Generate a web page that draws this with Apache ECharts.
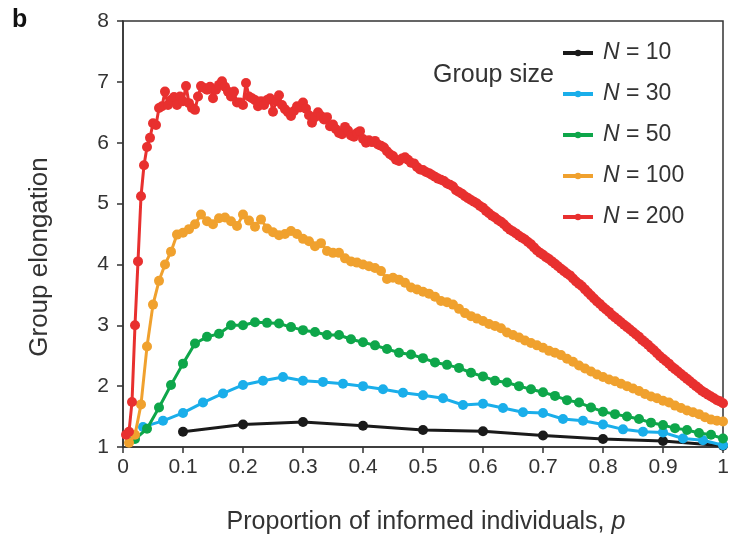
<!DOCTYPE html>
<html>
<head>
<meta charset="utf-8">
<script src="https://cdn.jsdelivr.net/npm/echarts@6.0.0/dist/echarts.min.js"></script>
<style>
  html, body { margin: 0; padding: 0; background: #fff; }
  #chart { width: 734px; height: 536px; }
</style>
</head>
<body>
<div id="chart"></div>
<script>
// Group sizes (legend) and colours
const groupSizes = ['10', '30', '50', '100', '200'];
const colors = ['#1a1a1a', '#1aaeea', '#0ea64a', '#f0a12e', '#e8302f'];

// tick labels
const xTicks = ['0', '0.1', '0.2', '0.3', '0.4', '0.5', '0.6', '0.7', '0.8', '0.9', '1'];
const yTicks = ['1', '2', '3', '4', '5', '6', '7', '8'];

// Group elongation, sampled at p = k/N, k = 1..N
const elong10 = [1.25, 1.37, 1.41, 1.35, 1.28, 1.26, 1.19, 1.13, 1.10, 1.02];

const elong30 = [1.33, 1.43, 1.56, 1.73, 1.88, 2.02, 2.09, 2.15, 2.09, 2.07,
  2.04, 2.00, 1.95, 1.89, 1.85, 1.80, 1.69, 1.71, 1.64, 1.57,
  1.56, 1.46, 1.43, 1.37, 1.29, 1.25, 1.24, 1.14, 1.11, 1.03];

const elong50 = [1.13, 1.30, 1.65, 2.02, 2.37, 2.70, 2.81, 2.86, 3.00, 3.00,
  3.05, 3.04, 3.03, 2.97, 2.92, 2.89, 2.84, 2.84, 2.77, 2.72,
  2.67, 2.61, 2.55, 2.52, 2.46, 2.39, 2.35, 2.30, 2.22, 2.16,
  2.09, 2.06, 2.00, 1.95, 1.90, 1.84, 1.77, 1.73, 1.65, 1.58,
  1.54, 1.50, 1.46, 1.40, 1.36, 1.31, 1.28, 1.23, 1.20, 1.14];

const elong100 = [1.07, 1.20, 1.70, 2.65, 3.34, 3.73, 4.00, 4.21, 4.49, 4.52,
  4.58, 4.66, 4.82, 4.71, 4.66, 4.76, 4.77, 4.71, 4.63, 4.82,
  4.72, 4.62, 4.74, 4.59, 4.53, 4.48, 4.50, 4.55, 4.50, 4.42,
  4.38, 4.30, 4.35, 4.22, 4.19, 4.19, 4.10, 4.05, 4.03, 4.00,
  3.97, 3.94, 3.89, 3.76, 3.78, 3.75, 3.70, 3.62, 3.59, 3.55,
  3.52, 3.47, 3.40, 3.38, 3.34, 3.27, 3.20, 3.15, 3.11, 3.07,
  3.02, 2.99, 2.95, 2.88, 2.84, 2.80, 2.75, 2.71, 2.67, 2.63,
  2.58, 2.55, 2.51, 2.45, 2.40, 2.34, 2.29, 2.24, 2.19, 2.15,
  2.11, 2.08, 2.04, 2.00, 1.96, 1.92, 1.87, 1.83, 1.80, 1.76,
  1.73, 1.68, 1.64, 1.60, 1.57, 1.54, 1.49, 1.45, 1.43, 1.42];

const elong200 = [1.20, 1.25, 1.74, 3.00, 4.05, 5.12, 5.63, 5.93, 6.08, 6.32,
  6.29, 6.57, 6.60, 6.84, 6.62, 6.70, 6.75, 6.62, 6.76, 6.68,
  6.93, 6.65, 6.57, 6.54, 6.76, 6.93, 6.90, 6.87, 6.92, 6.73,
  6.87, 6.95, 7.01, 6.92, 6.84, 6.76, 6.84, 6.66, 6.66, 6.62,
  6.98, 6.76, 6.73, 6.70, 6.60, 6.68, 6.62, 6.70, 6.73, 6.51,
  6.68, 6.78, 6.62, 6.55, 6.50, 6.44, 6.52, 6.60, 6.58, 6.66,
  6.56, 6.45, 6.33, 6.42, 6.50, 6.44, 6.38, 6.42, 6.27, 6.30,
  6.22, 6.16, 6.14, 6.26, 6.20, 6.12, 6.10, 6.16, 6.19, 6.06,
  6.00, 6.04, 6.01, 6.03, 5.97, 5.95, 5.92, 5.86, 5.81, 5.78,
  5.72, 5.70, 5.74, 5.76, 5.72, 5.67, 5.66, 5.60, 5.56, 5.55,
  5.52, 5.50, 5.47, 5.44, 5.41, 5.39, 5.37, 5.33, 5.31, 5.28,
  5.22, 5.19, 5.16, 5.12, 5.09, 5.06, 5.03, 5.00, 4.96, 4.93,
  4.88, 4.84, 4.80, 4.77, 4.73, 4.70, 4.66, 4.61, 4.57, 4.54,
  4.51, 4.47, 4.44, 4.41, 4.37, 4.33, 4.28, 4.23, 4.19, 4.16,
  4.12, 4.09, 4.05, 4.01, 3.97, 3.93, 3.89, 3.85, 3.82, 3.77,
  3.72, 3.68, 3.64, 3.59, 3.54, 3.49, 3.44, 3.39, 3.35, 3.30,
  3.26, 3.22, 3.17, 3.13, 3.09, 3.05, 3.01, 2.97, 2.93, 2.89,
  2.85, 2.81, 2.76, 2.72, 2.68, 2.63, 2.59, 2.54, 2.49, 2.45,
  2.41, 2.37, 2.32, 2.28, 2.24, 2.20, 2.16, 2.12, 2.08, 2.04,
  2.00, 1.96, 1.92, 1.89, 1.86, 1.83, 1.80, 1.77, 1.75, 1.72];

const seriesValues = [elong10, elong30, elong50, elong100, elong200];

const FONT = 'Liberation Sans, Arial, Helvetica, sans-serif';
const TXT = '#333333';

function toPairs(values, n) {
  return values.map((v, i) => [(i + 1) / n, v]);
}

const chart = echarts.init(document.getElementById('chart'), null, { renderer: 'canvas' });

const series = groupSizes.map((g, idx) => ({
  name: g,
  type: 'line',
  data: toPairs(seriesValues[idx], Number(g)),
  symbol: 'circle',
  symbolSize: 10,
  showSymbol: true,
  lineStyle: { width: 3, color: colors[idx] },
  itemStyle: { color: colors[idx] },
  emphasis: { disabled: true },
  animation: false,
  z: 2 + idx
}));

chart.setOption({
  animation: false,
  backgroundColor: '#ffffff',
  grid: {
    left: 123, right: 11, top: 21, bottom: 89,
    show: true, borderColor: '#333', borderWidth: 1.5, backgroundColor: 'transparent'
  },
  xAxis: {
    type: 'value', min: 0, max: 1, interval: 0.1,
    axisLine: { show: true, onZero: false, lineStyle: { color: '#333', width: 1.5 } },
    axisTick: { show: true, inside: false, length: 6, lineStyle: { color: '#333', width: 1.5 } },
    splitLine: { show: false },
    axisLabel: {
      margin: 10, fontSize: 21, color: TXT, fontFamily: FONT,
      formatter: (v) => xTicks[Math.round(v * 10)]
    }
  },
  yAxis: {
    type: 'value', min: 1, max: 8, interval: 1,
    axisLine: { show: true, onZero: false, lineStyle: { color: '#333', width: 1.5 } },
    axisTick: { show: true, inside: false, length: 6, lineStyle: { color: '#333', width: 1.5 } },
    splitLine: { show: false },
    axisLabel: {
      margin: 14, fontSize: 21, color: TXT, fontFamily: FONT,
      formatter: (v) => yTicks[Math.round(v) - 1]
    }
  },
  legend: {
    orient: 'vertical', left: 556, top: 35,
    itemWidth: 30, itemHeight: 8, itemGap: 15,
    data: groupSizes,
    lineStyle: { width: 4 },
    formatter: (n) => '{i|N} = ' + n,
    textStyle: {
      fontSize: 23, color: TXT, fontFamily: FONT, lineHeight: 26, padding: [0, 0, 0, 5],
      rich: { i: { fontStyle: 'italic', fontSize: 23, color: TXT, fontFamily: FONT, lineHeight: 26 } }
    }
  },
  graphic: [
    { type: 'text', x: 12, y: 20, style: { text: 'b', fontSize: 25, fontWeight: 'bold', fontFamily: FONT, fill: '#111', verticalAlign: 'middle' } },
    { type: 'text', x: 433, y: 75, style: { text: 'Group size', fontSize: 25, fontFamily: FONT, fill: TXT, verticalAlign: 'middle' } },
    { type: 'text', x: 426, y: 522, style: {
        text: 'Proportion of informed individuals, {i|p}', fontSize: 25, fontFamily: FONT, fill: TXT,
        align: 'center', verticalAlign: 'middle',
        rich: { i: { fontStyle: 'italic', fontSize: 25, fontFamily: FONT, fill: TXT } } } },
    { type: 'text', x: 40, y: 257, rotation: Math.PI / 2, style: {
        text: 'Group elongation', fontSize: 26, fontFamily: FONT, fill: TXT,
        align: 'center', verticalAlign: 'middle' } }
  ],
  series: series
});
</script>
</body>
</html>
